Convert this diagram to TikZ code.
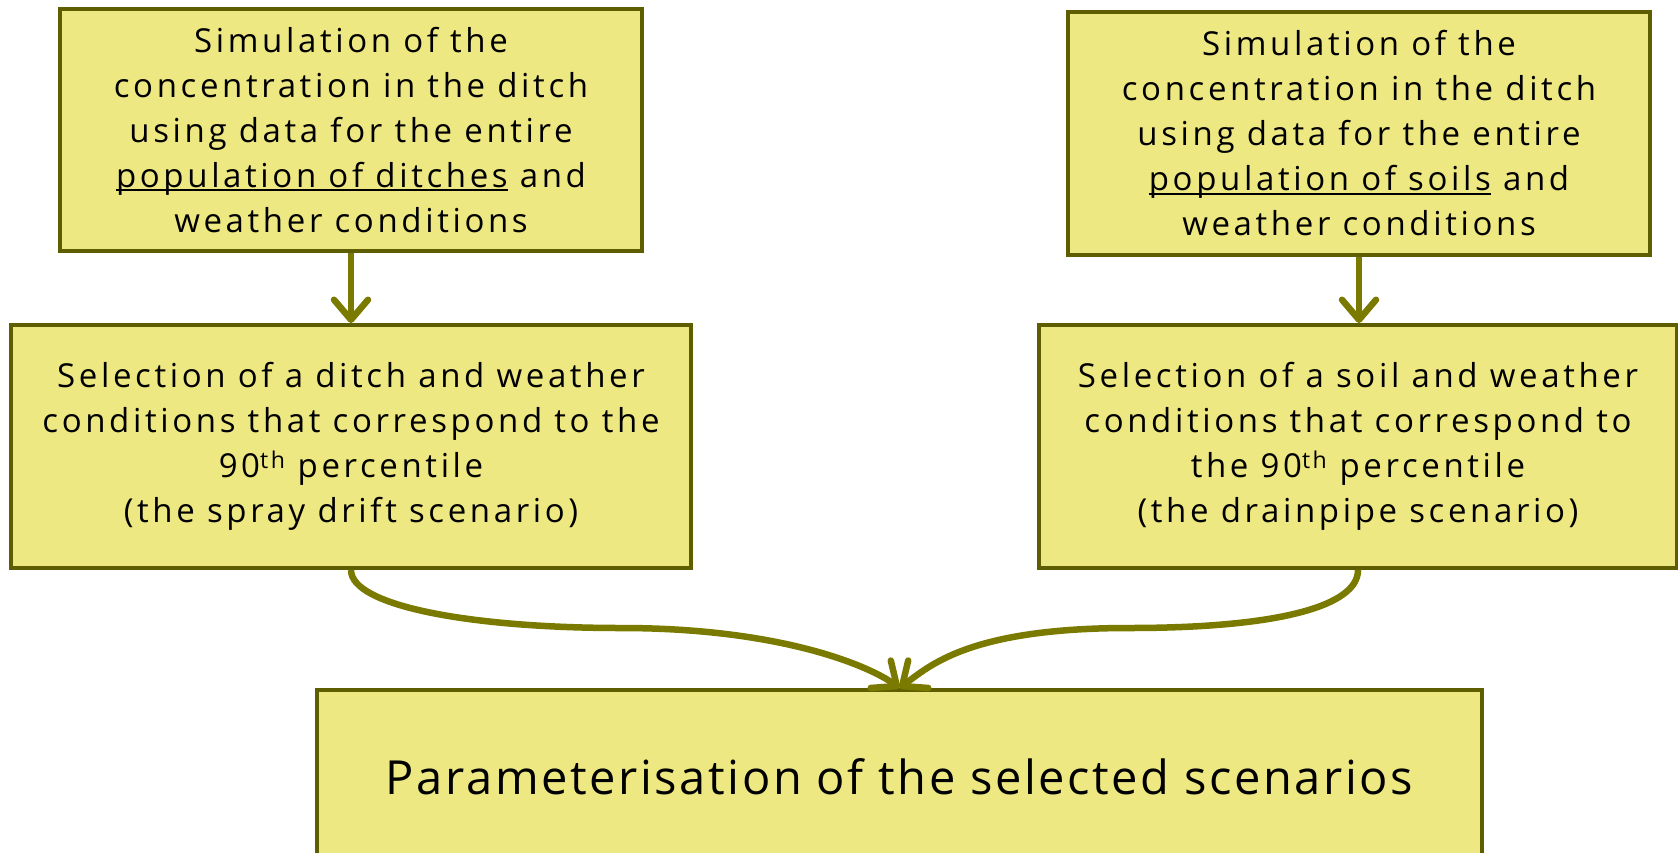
\documentclass[tikz,border=0pt]{standalone}
\usepackage{fontspec}
\setmainfont{Open Sans}
\newfontfamily\boxfont{Open Sans}[LetterSpace=11]
\newfontfamily\bigfont{Open Sans}[LetterSpace=5.5]
\usetikzlibrary{arrows.meta}
\definecolor{boxfill}{RGB}{238,232,130}
\definecolor{boxline}{RGB}{94,94,0}
\definecolor{arrowcol}{RGB}{122,122,0}
\newcommand\myul[1]{\leavevmode\setbox0\hbox{#1}\rlap{\rule[-4pt]{\wd0}{2.2pt}}\box0\relax}
\begin{document}
\begin{tikzpicture}[x=1pt,y=-1pt,
  flowbox/.style={draw=boxline, fill=boxfill, line width=4pt, inner sep=0pt,
    align=center, font=\boxfont\fontsize{33}{45}\selectfont},
  flowarrow/.style={draw=arrowcol, line width=6.5pt,
    -{Straight Barb[length=20pt, width=34pt, line cap=round, round]}}]
\useasboundingbox (0,0) rectangle (1678,852);
\node[flowbox, minimum width=582pt, minimum height=242pt] (b1) at (351,130)
  {Simulation of the\\concentration in the ditch\\using data for the entire\\\myul{population of ditches} and\\weather conditions};
\node[flowbox, minimum width=582pt, minimum height=243pt] (b2) at (1359,133.5)
  {Simulation of the\\concentration in the ditch\\using data for the entire\\\myul{population of soils} and\\weather conditions};
\node[flowbox, minimum width=680pt, minimum height=243pt] (b3) at (351,446.5)
  {Selection of a ditch and weather\\conditions that correspond to the\\90\textsuperscript{th} percentile\\(the spray drift scenario)};
\node[flowbox, minimum width=638pt, minimum height=243pt] (b4) at (1358,446.5)
  {Selection of a soil and weather\\conditions that correspond to\\the 90\textsuperscript{th} percentile\\(the drainpipe scenario)};
\node[flowbox, minimum width=1165pt, minimum height=174pt, anchor=north, font=\bigfont\fontsize{47}{54}\selectfont] (b5) at (899.5,688)
  {Parameterisation of the selected scenarios};
\coordinate (m1) at (621,628);
\coordinate (m2) at (1129,628);
\draw[flowarrow] (b1.south) -- (b3.north);
\draw[flowarrow] (b2.south) -- (b4.north -| b2.south);
\draw[flowarrow] (b3.south) .. controls +(0,36) and +(-150,0) .. (m1) .. controls +(160,0) and +(-30,-22) .. (b5.north);
\draw[flowarrow] (b4.south) .. controls +(0,36) and +(150,0) .. (m2) .. controls +(-160,0) and +(30,-22) .. (b5.north);
\end{tikzpicture}
\end{document}
